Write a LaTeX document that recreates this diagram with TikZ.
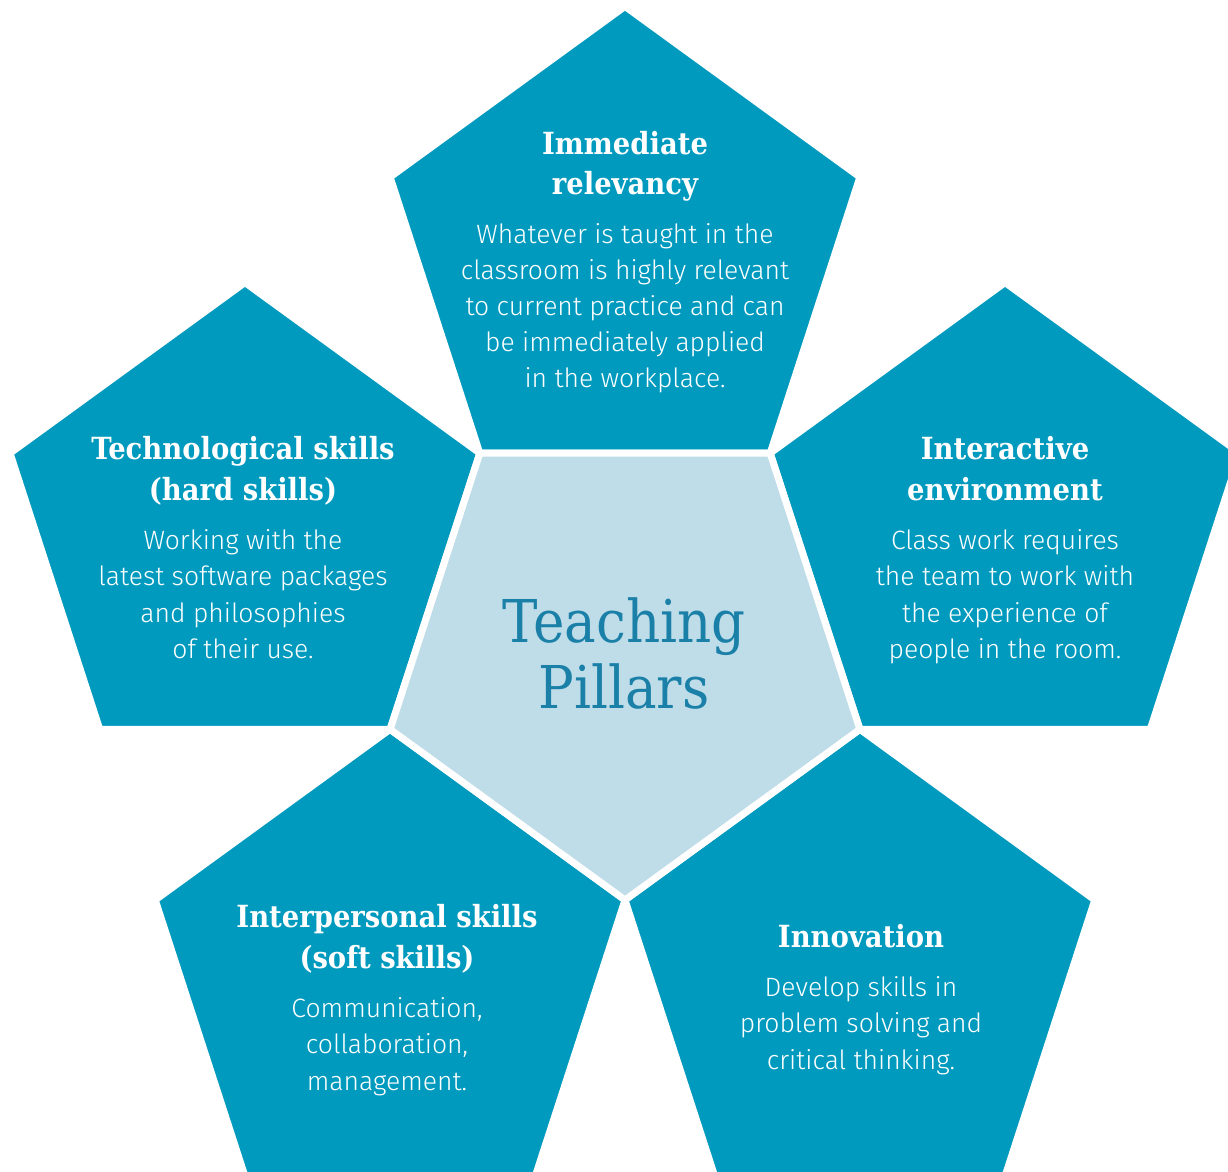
\documentclass[tikz,border=0pt]{standalone}
\usepackage{fontspec}
\setmainfont{Fira Sans Light}[BoldFont=Fira Sans SemiBold]
\newfontfamily\slab{DejaVu Serif Condensed}
\usetikzlibrary{calc}
\definecolor{pillar}{HTML}{009ABE}
\definecolor{pillarlight}{HTML}{BFDDE9}
\definecolor{pillartext}{HTML}{1A80A8}
\tikzset{
  petal/.style={fill=pillar, draw=white, line width=7pt, line join=miter},
  core/.style={fill=pillarlight, draw=white, line width=7pt, line join=miter},
  ttl/.style={text=white, font=\slab\bfseries\fontsize{30.5}{40}\selectfont, anchor=base, inner sep=0pt},
  bdy/.style={text=white, font=\fontsize{26.5}{36}\selectfont, anchor=base, inner sep=0pt},
  big/.style={text=pillartext, font=\slab\fontsize{59}{66}\selectfont, anchor=base, inner sep=0pt}
}
\begin{document}
\begin{tikzpicture}[x=1pt,y=-1pt]
\useasboundingbox (0,0) rectangle (1228,1171);
\clip (0,0) rectangle (1228,1171);
\def\R{247}
\coordinate (C) at (625,653);
\foreach \a/\n in {90/ptop,162/pleft,18/pright,234/pbl,306/pbr}
  \coordinate (\n) at ($(C)+(-\a:399.6)$);
% outer petals (upright pentagons)
\foreach \n in {ptop,pleft,pright,pbl,pbr}
  \path[petal] ($(\n)+(-90:\R)$) -- ($(\n)+(-162:\R)$) -- ($(\n)+(-234:\R)$)
     -- ($(\n)+(-306:\R)$) -- ($(\n)+(-18:\R)$) -- cycle;
% central pentagon (pointing down)
\path[core] ($(C)+(90:\R)$) -- ($(C)+(18:\R)$) -- ($(C)+(-54:\R)$)
   -- ($(C)+(-126:\R)$) -- ($(C)+(-198:\R)$) -- cycle;
% centre text
\node[big] (c1) at (624,642) {Teaching};
\node[big] (c2) at (624,708) {Pillars};
% top
\node[ttl] (t1) at (625,154) {Immediate};
\node[ttl] (t2) at (625,194) {relevancy};
\foreach \t [count=\i] in {Whatever is taught in the, classroom is highly relevant, to current practice and can, be immediately applied, in the workplace.}
  \node[bdy] (tb\i) at (625,{243+36.2*(\i-1)}) {\t};
% left
\node[ttl] (l1) at (243,459) {Technological skills};
\node[ttl] (l2) at (243,500) {(hard skills)};
\foreach \t [count=\i] in {Working with the, latest software packages, and philosophies, of their use.}
  \node[bdy] (lb\i) at (243,{549+36.5*(\i-1)}) {\t};
% right
\node[ttl] (r1) at (1005,459) {Interactive};
\node[ttl] (r2) at (1005,500) {environment};
\foreach \t [count=\i] in {Class work requires, the team to work with, the experience of, people in the room.}
  \node[bdy] (rb\i) at (1005,{549+36.5*(\i-1)}) {\t};
% bottom left
\node[ttl] (bl1) at (387,927) {Interpersonal skills};
\node[ttl] (bl2) at (387,968) {(soft skills)};
\foreach \t [count=\i] in {{Communication,}, {collaboration,}, management.}
  \node[bdy] (blb\i) at (387,{1017+36.5*(\i-1)}) {\t};
% bottom right
\node[ttl] (br1) at (861,947) {Innovation};
\foreach \t [count=\i] in {Develop skills in, problem solving and, critical thinking.}
  \node[bdy] (brb\i) at (861,{996+36.5*(\i-1)}) {\t};
\end{tikzpicture}
\end{document}
